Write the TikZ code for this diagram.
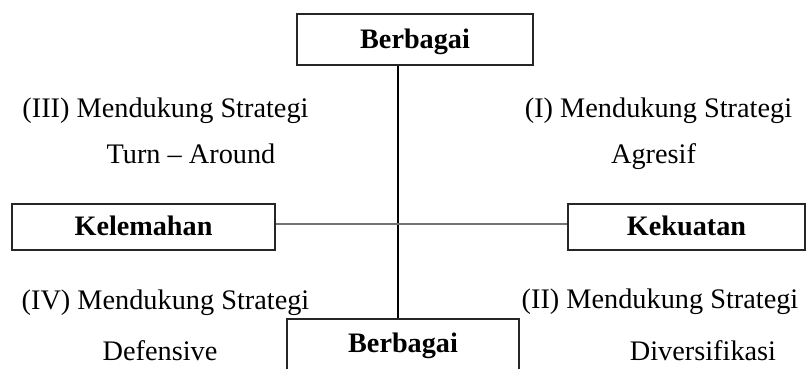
\documentclass[tikz,border=0pt]{standalone}
\usepackage{fontspec}
\setmainfont{Liberation Serif}
\tikzset{
  box/.style={draw=black!85, line width=1.6pt, inner sep=0pt,
    font=\bfseries\fontsize{28.2}{33}\selectfont, text height=20pt, text depth=3pt},
  lbl/.style={anchor=base, inner sep=0pt, font=\fontsize{28.3}{33}\selectfont},
  vline/.style={draw=black, line width=1.3pt},
  hline/.style={draw=black!55, line width=2pt}
}
\begin{document}
\begin{tikzpicture}[x=1pt,y=-1pt]
\useasboundingbox (0,0) rectangle (807,368);
\clip (0,0) rectangle (807,368);
% boxes
\node[box, minimum width=236pt, minimum height=51pt] (top) at (415,39.5) {Berbagai};
\node[box, minimum width=263pt, minimum height=46pt] (kel) at (143.5,227) {Kelemahan};
\node[box, minimum width=237pt, minimum height=46pt] (kek) at (686.5,227) {Kekuatan};
\node[box, minimum width=232pt, minimum height=80pt, anchor=north] (bot) at (403,318) {};
\node[lbl, font=\bfseries\fontsize{28.2}{33}\selectfont] (bottxt) at (403,352) {Berbagai};
% axes
\coordinate (vx) at (398,0);
\coordinate (hy) at (0,224);
\draw[vline] (top.south -| vx) -- (bot.north -| vx);
\draw[hline] (kel.east |- hy) -- (kek.west |- hy);
% quadrant labels
\node[lbl] (q3a) at (165.5,117) {(III) Mendukung Strategi};
\node[lbl] (q3b) at (191,163) {Turn -- Around};
\node[lbl] (q1a) at (658.5,117) {(I) Mendukung Strategi};
\node[lbl] (q1b) at (653.5,163) {Agresif};
\node[lbl] (q4a) at (165.5,309) {(IV) Mendukung Strategi};
\node[lbl] (q4b) at (160,360) {Defensive};
\node[lbl] (q2a) at (660,308) {(II) Mendukung Strategi};
\node[lbl] (q2b) at (703,360) {Diversifikasi};
\end{tikzpicture}
\end{document}
